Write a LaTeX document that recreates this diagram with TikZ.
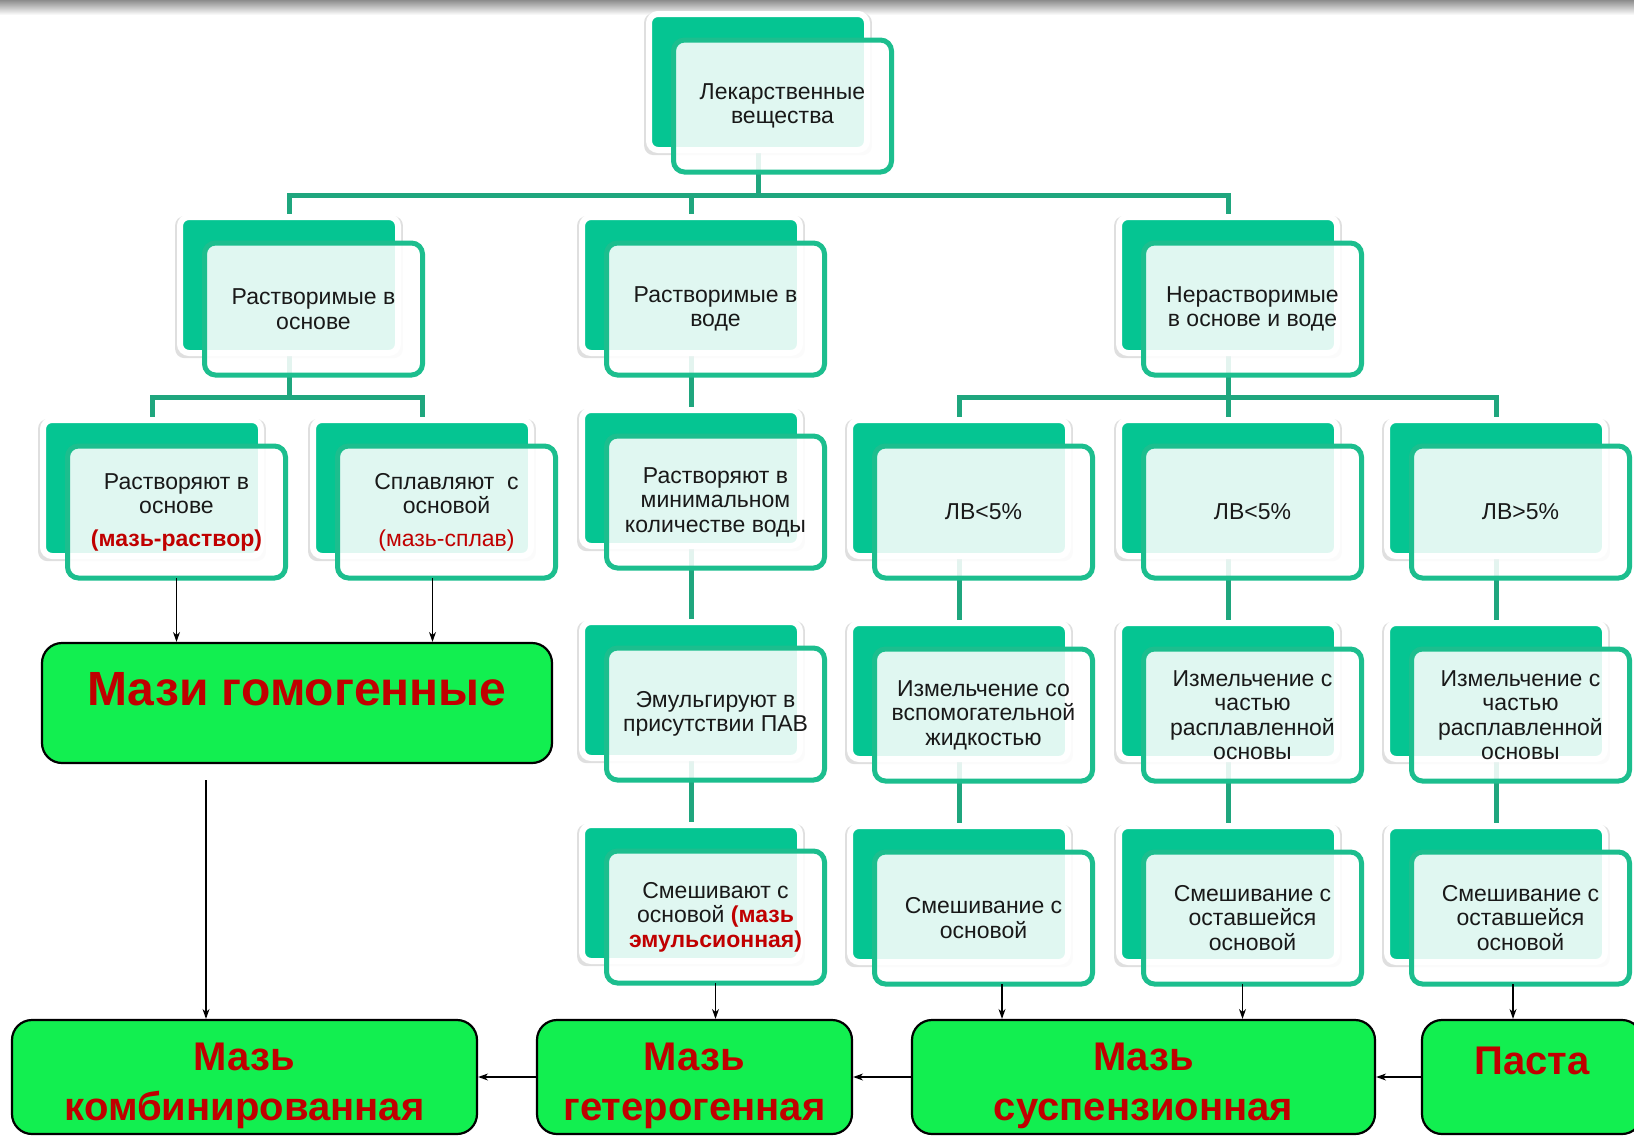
\documentclass[tikz,border=0pt]{standalone}
\usepackage{fontspec}
\setmainfont{Liberation Sans}
\usetikzlibrary{arrows.meta,shadows}
\pgfdeclarelayer{bg}
\pgfsetlayers{bg,main}
\definecolor{cardgreen}{HTML}{05C592}
\definecolor{cardline}{HTML}{1CBE8E}
\definecolor{treeline}{HTML}{1FA67E}
\definecolor{boxgreen}{HTML}{12EF50}
\definecolor{boxred}{HTML}{C00000}

\newcommand{\card}[4]{%
  \node[backcard] (#1-b) at (#2,#3) {};
  \node[frontcard] (#1) at ([shift={(24.5,24)}]#1-b.center) {#4};
}

\begin{document}
\begin{tikzpicture}[x=1pt,y=-1pt,
    backcard/.style={rectangle,rounded corners=9pt,fill=cardgreen,draw=white,line width=6pt,
      minimum width=218pt,minimum height=136pt,outer sep=0pt,
      drop shadow={opacity=0.25,shadow xshift=0pt,shadow yshift=-2pt,shadow scale=1.045}},
    frontcard/.style={rectangle,rounded corners=11pt,fill=white,fill opacity=0.88,text opacity=1,
      draw=cardline,draw opacity=1,line width=5pt,minimum width=218pt,minimum height=132pt,
      inner sep=2pt,outer sep=0pt,align=center,text=black!90,font=\fontsize{23}{24.5}\selectfont},
    tline/.style={draw=treeline,line width=5pt,line join=miter},
    resbox/.style={rectangle,rounded corners=20pt,fill=boxgreen,draw=black,line width=2.2pt,
      align=center,text=boxred,inner sep=0pt,text height=95pt,
      font=\bfseries\fontsize{40}{50}\selectfont},
    arr/.style={-{Stealth[length=10pt,width=7pt]},line width=1.4pt,black}]
  \useasboundingbox (0,0) rectangle (1634,1138);

  \card{top}{758}{82}{Лекарственные\\вещества}
  \card{rosn}{289}{285}{Растворимые в\\основе}
  \card{rvod}{691}{285}{Растворимые в\\воде}
  \card{ners}{1228}{285}{Нерастворимые\\в основе и воде}

  \card{rasv}{152}{488}{Растворяют в\\основе\\[8pt]{\color{boxred}\bfseries(мазь-раствор)}}
  \card{splav}{422}{488}{Сплавляют\ \ с\\основой\\[8pt]{\color{boxred}(мазь-сплав)}}

  \card{rmin}{691}{478}{Растворяют в\\минимальном\\количестве воды}
  \card{emul}{691}{690}{Эмульгируют в\\присутствии ПАВ}
  \card{smes}{691}{893}{Смешивают с\\основой {\color{boxred}\bfseries(мазь}\\{\color{boxred}\bfseries эмульсионная)}}

  \card{lva}{959}{488}{ЛВ<5\%}
  \card{lvb}{1228}{488}{ЛВ<5\%}
  \card{lvc}{1496}{488}{ЛВ>5\%}
  \card{izma}{959}{691}{Измельчение со\\вспомогательной\\жидкостью}
  \card{izmb}{1228}{691}{Измельчение с\\частью\\расплавленной\\основы}
  \card{izmc}{1496}{691}{Измельчение с\\частью\\расплавленной\\основы}
  \card{smea}{959}{894}{Смешивание с\\основой}
  \card{smeb}{1228}{894}{Смешивание с\\оставшейся\\основой}
  \card{smec}{1496}{894}{Смешивание с\\оставшейся\\основой}

  \node[resbox,minimum width=510pt,minimum height=120pt,text height=34pt,text depth=30pt,
    font=\bfseries\fontsize{48}{56}\selectfont] (homog) at (297,703) {Мази гомогенные};
  \node[resbox,minimum width=465pt,minimum height=114pt] (komb) at (244.5,1077) {Мазь\\комбинированная};
  \node[resbox,minimum width=315pt,minimum height=114pt] (geter) at (694.5,1077) {Мазь\\гетерогенная};
  \node[resbox,minimum width=463pt,minimum height=114pt] (susp) at (1143.5,1077) {Мазь\\суспензионная};
  \node[resbox,minimum width=220pt,minimum height=114pt] (pasta) at (1532,1077) {Паста\\\phantom{М}};

  \begin{pgfonlayer}{bg}
    \fill[white] (0,0) rectangle (1634,1138);
    \shade[top color=black!45,bottom color=white] (0,0) rectangle (1634,15);
    \coordinate (bar1) at (0,195);
    \coordinate (bar2) at (0,397);
    \draw[tline] (top-b.center) -- (top-b.center |- bar1);
    \draw[tline] (rosn-b.center) -- (rosn-b.center |- bar1) -- (ners-b.center |- bar1) -- (ners-b.center);
    \draw[tline] (rvod-b.center) -- (rvod-b.center |- bar1);
    \draw[tline] (rosn-b.center) -- (rosn-b.center |- bar2);
    \draw[tline] (rasv-b.center) -- (rasv-b.center |- bar2) -- (splav-b.center |- bar2) -- (splav-b.center);
    \draw[tline] (rvod-b.center) -- (smes-b.center);
    \draw[tline] (ners-b.center) -- (ners-b.center |- bar2);
    \draw[tline] (lva-b.center) -- (lva-b.center |- bar2) -- (lvc-b.center |- bar2) -- (lvc-b.center);
    \draw[tline] (lvb-b.center) -- (lvb-b.center |- bar2);
    \foreach \n/\m in {lva/smea,lvb/smeb,lvc/smec}
      \draw[tline] (\n-b.center) -- (\m-b.center);
  \end{pgfonlayer}

  \coordinate (a1) at ([xshift=-14pt]splav.south);
  \coordinate (a2) at ([xshift=-91pt,yshift=-16pt]homog.south);
  \coordinate (a3) at ([xshift=18.5pt]smea.south);
  \coordinate (a4) at ([xshift=-10pt]smeb.south);
  \coordinate (a5) at ([xshift=-7.5pt]smec.south);
  \draw[arr] (rasv.south) -- (rasv.south |- homog.north);
  \draw[arr] (a1) -- (a1 |- homog.north);
  \draw[arr] (a2) -- (a2 |- komb.north);
  \draw[arr] (smes.south) -- (smes.south |- geter.north);
  \draw[arr] (a3) -- (a3 |- susp.north);
  \draw[arr] (a4) -- (a4 |- susp.north);
  \draw[arr] (a5) -- (a5 |- pasta.north);
  \draw[arr] (pasta) -- (susp);
  \draw[arr] (susp) -- (geter);
  \draw[arr] (geter) -- (komb);
\end{tikzpicture}
\end{document}
